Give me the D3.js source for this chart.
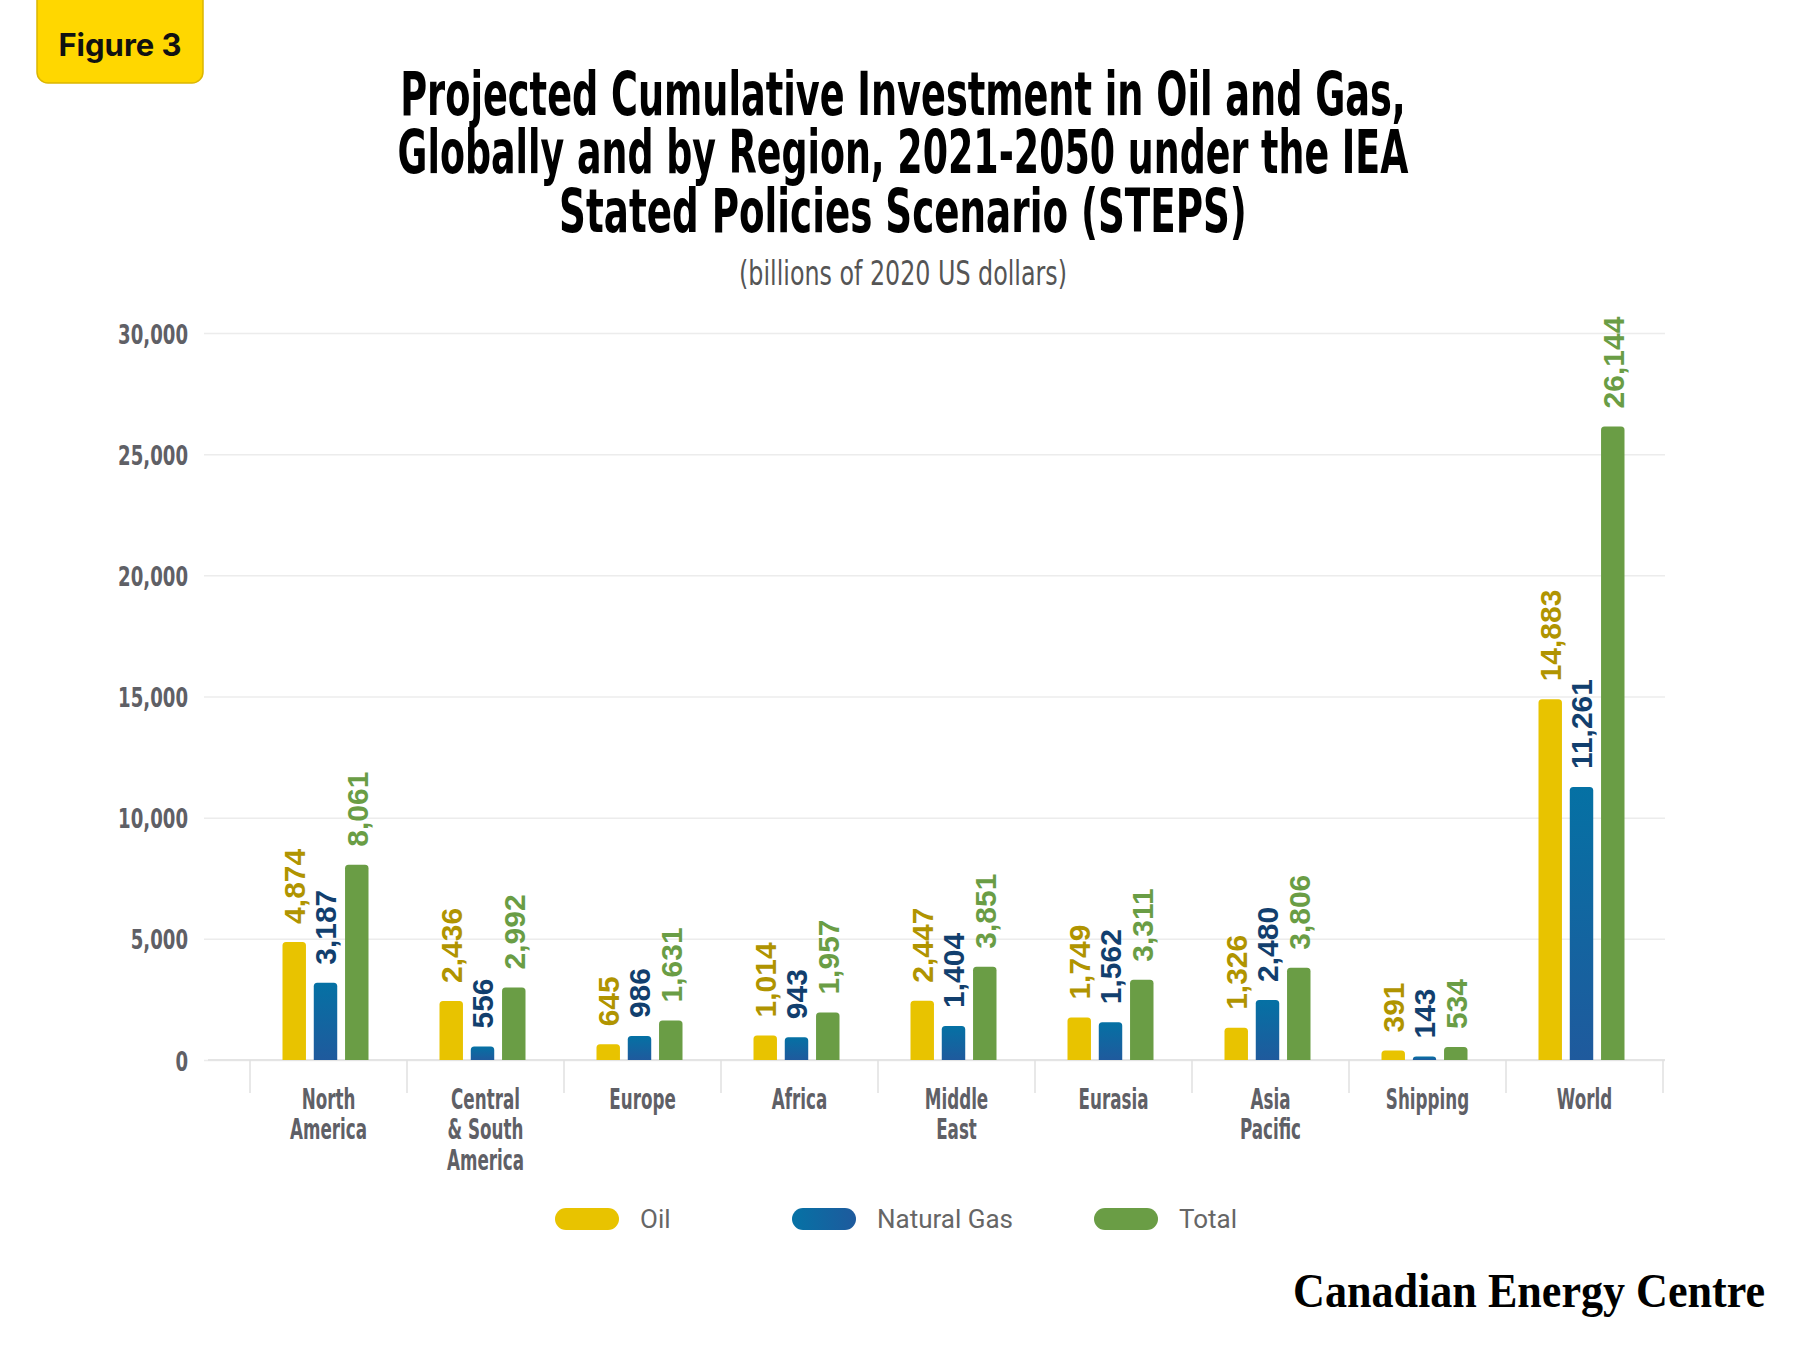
<!DOCTYPE html>
<html>
<head>
<meta charset="utf-8">
<title>Projected Cumulative Investment in Oil and Gas</title>
<script src="https://cdnjs.cloudflare.com/ajax/libs/d3/7.8.5/d3.min.js"></script>
<style>
  body { margin: 0; background: #fff; }
  svg { display: block; }
</style>
</head>
<body>
<svg id="chart" width="1800" height="1350"></svg>
<script>
// ---- data (billions of 2020 US dollars) ----
const regions = ["North America", "Central & South America", "Europe", "Africa",
  "Middle East", "Eurasia", "Asia Pacific", "Shipping", "World"];
const regionLines = [["North", "America"], ["Central", "& South", "America"], ["Europe"],
  ["Africa"], ["Middle", "East"], ["Eurasia"], ["Asia", "Pacific"], ["Shipping"], ["World"]];
const series = ["Oil", "Natural Gas", "Total"];
const oil = [4874, 2436, 645, 1014, 2447, 1749, 1326, 391, 14883];
const gas = [3187, 556, 986, 943, 1404, 1562, 2480, 143, 11261];
const total = [8061, 2992, 1631, 1957, 3851, 3311, 3806, 534, 26144];
const yTicks = [0, 5000, 10000, 15000, 20000, 25000, 30000];
const titleLines = ["Projected Cumulative Investment in Oil and Gas,",
  "Globally and by Region, 2021-2050 under the IEA",
  "Stated Policies Scenario (STEPS)"];
const subtitle = "(billions of 2020 US dollars)";

const values = { "Oil": oil, "Natural Gas": gas, "Total": total };
const barFill = { "Oil": "#e8c300", "Natural Gas": "url(#gasGrad)", "Total": "#6a9d45" };
const labelFill = { "Oil": "#b09400", "Natural Gas": "#123f6e", "Total": "#6a9d45" };

const narrow = "'Liberation Sans Narrow','DejaVu Sans Condensed','Arial Narrow',sans-serif";
const svg = d3.select("#chart");

// squeeze factor so the fallback narrow font matches the very condensed original
function squeeze(size, weight, sample, target) {
  const t = svg.append("text").attr("font-family", narrow)
    .attr("font-size", size).attr("font-weight", weight).text(sample);
  const w = t.node().getComputedTextLength();
  t.remove();
  return target / w;
}

const defs = svg.append("defs");
const vg = defs.append("linearGradient").attr("id", "gasGrad")
  .attr("x1", 0).attr("y1", 0).attr("x2", 0).attr("y2", 1);
vg.append("stop").attr("offset", "0%").attr("stop-color", "#0571a4");
vg.append("stop").attr("offset", "100%").attr("stop-color", "#1f5a9d");
const hg = defs.append("linearGradient").attr("id", "gasGradH")
  .attr("x1", 0).attr("y1", 0).attr("x2", 1).attr("y2", 0);
hg.append("stop").attr("offset", "0%").attr("stop-color", "#0672a5");
hg.append("stop").attr("offset", "100%").attr("stop-color", "#1e5a9d");

// ---- badge ----
svg.append("rect").attr("x", 37).attr("y", -20).attr("width", 166).attr("height", 103)
  .attr("rx", 11).attr("fill", "#ffd700").attr("stroke", "#dcb600").attr("stroke-width", 1.5);
svg.append("text").attr("x", 120).attr("y", 56).attr("text-anchor", "middle")
  .attr("font-family", "Inter, Roboto, sans-serif").attr("font-weight", 700)
  .attr("font-size", 31).attr("fill", "#111").text("Figure 3");

// ---- title ----
const titleWidths = [1006, 1011, 688];
const titleBase = [115, 173, 232];
titleLines.forEach((line, i) => {
  const t = svg.append("text").attr("font-family", narrow).attr("font-weight", 700)
    .attr("font-size", 58).attr("fill", "#000").attr("text-anchor", "middle").text(line);
  const w = t.node().getComputedTextLength();
  t.attr("transform", `translate(903,${titleBase[i]}) scale(${titleWidths[i] / w},1.03)`);
});
{
  const t = svg.append("text").attr("font-family", narrow).attr("font-weight", 400)
    .attr("font-size", 33).attr("fill", "#555").attr("text-anchor", "middle").text(subtitle);
  const w = t.node().getComputedTextLength();
  t.attr("transform", `translate(903,285) scale(${328 / w},1)`);
}

// ---- scales ----
const plot = { left: 204, right: 1665, top: 333, bottom: 1060 };
const x = d3.scaleBand().domain(regions).range([250, 1663]);
const y = d3.scaleLinear().domain([0, 30000]).range([plot.bottom, plot.top]);
const groupW = 86;
const xs = d3.scaleBand().domain(series).range([0, groupW]).paddingInner(0.25);

// ---- y axis + gridlines ----
const tickF = squeeze(27, 700, "30,000", 70);
const yAxis = svg.append("g").attr("transform", `translate(${plot.left},0)`)
  .call(d3.axisLeft(y).tickValues(yTicks).tickSize(-(plot.right - plot.left))
    .tickPadding(16).tickFormat(d3.format(",")));
yAxis.select(".domain").remove();
yAxis.selectAll(".tick line").attr("stroke", "#ececec").attr("stroke-width", 1.5);
yAxis.selectAll(".tick text").attr("x", null).attr("dy", null)
  .attr("transform", `translate(-16,10) scale(${tickF},1)`)
  .attr("font-family", narrow).attr("font-weight", 700).attr("font-size", 27)
  .attr("fill", "#5f6066");

// baseline and separators
svg.append("line").attr("x1", plot.left + 4).attr("x2", plot.right)
  .attr("y1", y(0)).attr("y2", y(0)).attr("stroke", "#e4e4e4").attr("stroke-width", 2);
const edges = regions.map(r => x(r)).concat([x.range()[1]]);
svg.append("g").selectAll("line").data(edges).join("line")
  .attr("x1", d => d).attr("x2", d => d).attr("y1", y(0)).attr("y2", y(0) + 33)
  .attr("stroke", "#e0e0e0").attr("stroke-width", 1.5);

// ---- bars ----
function topRounded(x0, y0, w, h, r) {
  r = Math.min(r, h, w / 2);
  return `M${x0},${y0 + h}V${y0 + r}Q${x0},${y0} ${x0 + r},${y0}H${x0 + w - r}` +
    `Q${x0 + w},${y0} ${x0 + w},${y0 + r}V${y0 + h}Z`;
}
const rows = [];
regions.forEach((r, i) => series.forEach(s => rows.push({ region: r, s, v: values[s][i] })));
const gx = r => x(r) + (x.bandwidth() - groupW) / 2 - 3;

svg.append("g").selectAll("path").data(rows).join("path")
  .attr("d", d => topRounded(gx(d.region) + xs(d.s), y(d.v), xs.bandwidth(), y(0) - y(d.v), 3.5))
  .attr("fill", d => barFill[d.s]);

svg.append("g").selectAll("text").data(rows).join("text")
  .attr("transform", d => `translate(${gx(d.region) + xs(d.s) + xs.bandwidth() / 2},${y(d.v) - 18}) rotate(-90)`)
  .attr("dy", "0.36em")
  .attr("font-family", "'Liberation Sans', Arial, sans-serif").attr("font-weight", 700)
  .attr("font-size", 30).attr("fill", d => labelFill[d.s])
  .text(d => d3.format(",")(d.v));

// ---- category labels ----
const catF = squeeze(28, 700, "America", 77);
const cat = svg.append("g").selectAll("text").data(regions).join("text")
  .attr("transform", r => `translate(${x(r) + x.bandwidth() / 2},1109) scale(${catF},1)`)
  .attr("text-anchor", "middle").attr("font-family", narrow).attr("font-weight", 700)
  .attr("font-size", 28).attr("fill", "#5f6066");
cat.each(function (r, i) {
  d3.select(this).selectAll("tspan").data(regionLines[i]).join("tspan")
    .attr("x", 0).attr("dy", (d, j) => j === 0 ? 0 : 30.5).text(d => d);
});

// ---- legend ----
const legendX = [555, 792, 1094];
const legend = svg.append("g").selectAll("g").data(series).join("g")
  .attr("transform", (d, i) => `translate(${legendX[i]},1219)`);
legend.append("rect").attr("x", 0).attr("y", -11).attr("width", 64).attr("height", 22)
  .attr("rx", 11).attr("fill", d => d === "Natural Gas" ? "url(#gasGradH)" : barFill[d]);
legend.append("text").attr("x", 85).attr("y", 9)
  .attr("font-family", "Roboto, 'Noto Sans', sans-serif").attr("font-size", 26)
  .attr("fill", "#666").text(d => d);

// ---- source logo ----
{
  const t = svg.append("text").attr("font-family", "'Liberation Serif', 'DejaVu Serif', serif")
    .attr("font-weight", 700).attr("font-size", 48).attr("fill", "#000")
    .attr("text-anchor", "end").text("Canadian Energy Centre");
  const w = t.node().getComputedTextLength();
  t.attr("transform", `translate(1765,1307) scale(${472 / w},1)`);
}
</script>
</body>
</html>
